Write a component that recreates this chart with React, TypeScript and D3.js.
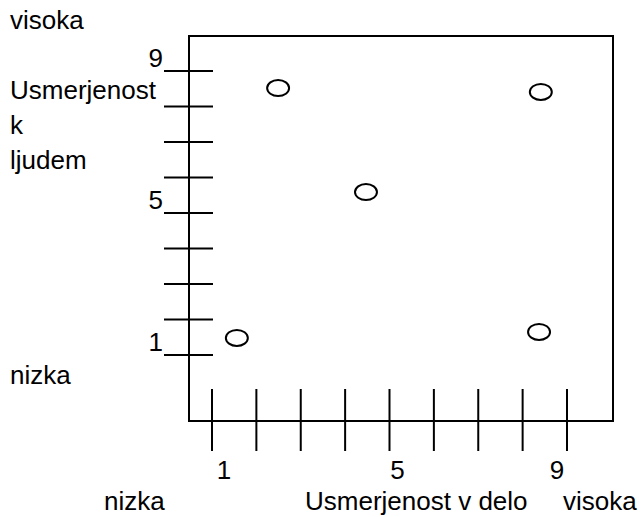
import React from "react";
import * as d3 from "d3";

const W = 643;
const H = 517;

// Managerial grid: points (task orientation, people orientation)
const pointX = [2.49, 8.41, 4.47, 1.56, 8.37];
const pointY = [8.52, 8.41, 5.59, 1.48, 1.65];
const tickValues = [1, 2, 3, 4, 5, 6, 7, 8, 9];
const labelledTicks = [1, 5, 9];
const yTitleLines = ["Usmerjenost", "k", "ljudem"];
const xTitle = "Usmerjenost v delo";
const highLabel = "visoka";
const lowLabel = "nizka";

const FONT = "'Liberation Sans', Arial, sans-serif";
const FS = 26;

export default function App() {
  const x = d3.scaleLinear().domain([1, 9]).range([212, 567]);
  const y = d3.scaleLinear().domain([1, 9]).range([355, 71]);

  const box = { left: 189, top: 36, right: 613, bottom: 421 };
  const xLabelNudge = [12, 8, -10];

  return (
    <svg
      width={W}
      height={H}
      style={{ position: "absolute", left: 0, top: 0, background: "#fff" }}
      fontFamily={FONT}
      fontSize={FS}
    >
      <rect width={W} height={H} fill="#fff" />
      {/* frame */}
      <rect
        x={box.left}
        y={box.top}
        width={box.right - box.left}
        height={box.bottom - box.top}
        fill="none"
        stroke="#000"
        strokeWidth={2}
      />
      {/* y ticks */}
      {tickValues.map((v) => (
        <line
          key={"yt" + v}
          x1={164}
          x2={213}
          y1={y(v)}
          y2={y(v)}
          stroke="#000"
          strokeWidth={2}
        />
      ))}
      {/* x ticks */}
      {tickValues.map((v) => (
        <line
          key={"xt" + v}
          x1={x(v)}
          x2={x(v)}
          y1={389}
          y2={451}
          stroke="#000"
          strokeWidth={2}
        />
      ))}
      {/* y tick labels */}
      {labelledTicks.map((v) => (
        <text key={"yl" + v} x={163} y={y(v) - 4} textAnchor="end" fill="#000">
          {v}
        </text>
      ))}
      {/* x tick labels */}
      {labelledTicks.map((v, i) => (
        <text
          key={"xl" + v}
          x={x(v) + xLabelNudge[i]}
          y={479}
          textAnchor="middle"
          fill="#000"
        >
          {v}
        </text>
      ))}
      {/* y axis titles */}
      <text x={10} y={29} fill="#000">{highLabel}</text>
      {yTitleLines.map((t, i) => (
        <text key={t} x={10} y={99 + i * 35} fill="#000">
          {t}
        </text>
      ))}
      <text x={10} y={384} fill="#000">{lowLabel}</text>
      {/* x axis titles */}
      <text x={104} y={510} fill="#000">{lowLabel}</text>
      <text x={305} y={510} fill="#000">{xTitle}</text>
      <text x={563} y={510} fill="#000">{highLabel}</text>
      {/* points */}
      {pointX.map((px, i) => (
        <ellipse
          key={"p" + i}
          cx={x(px)}
          cy={y(pointY[i])}
          rx={11}
          ry={8}
          fill="none"
          stroke="#000"
          strokeWidth={2}
        />
      ))}
    </svg>
  );
}
